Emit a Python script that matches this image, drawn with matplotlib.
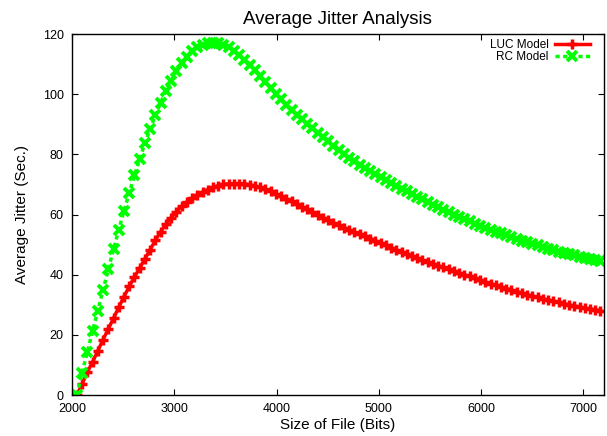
import numpy as np
from matplotlib import pyplot as plt

plt.rcParams["font.family"] = ["Liberation Sans", "DejaVu Sans"]

# File sizes (bits), evenly sampled from 2048 to 7168
file_size = np.linspace(2048, 7168, 101)

# LUC model average jitter (sec.)
luc_jitter = [
    0, 3.7, 7.6, 11.0, 14.7, 18.4, 22.0, 25.5, 29.2, 32.7,
    36.1, 39.3, 42.2, 45.3, 48.3, 51.5, 54.3, 56.8, 59.0, 60.9,
    62.7, 64.2, 65.5, 66.6, 67.5, 68.3, 69.0, 69.6, 70.0, 70.2,
    70.3, 70.3, 70.2, 69.9, 69.5, 69.0, 68.4, 67.7, 66.9, 66.0,
    65.2, 64.4, 63.5, 62.6, 61.7, 60.8, 59.9, 59.0, 58.1, 57.2,
    56.4, 55.6, 54.8, 54.1, 53.4, 52.7, 52.0, 51.3, 50.5, 49.8,
    49.0, 48.2, 47.5, 46.8, 46.1, 45.4, 44.8, 44.2, 43.6, 43.0,
    42.4, 41.8, 41.2, 40.6, 40.0, 39.4, 38.8, 38.2, 37.6, 37.0,
    36.5, 35.9, 35.4, 34.9, 34.4, 33.9, 33.4, 32.9, 32.5, 32.0,
    31.6, 31.2, 30.8, 30.4, 30.0, 29.6, 29.3, 28.9, 28.6, 28.3,
    28.0,
]

# RC model average jitter (sec.)
rc_jitter = [
    0, 7.4, 14.4, 21.3, 28.0, 35.0, 41.8, 48.4, 55.0, 61.2,
    67.2, 73.0, 78.5, 83.7, 88.5, 93.0, 97.2, 101.0, 104.5, 107.6,
    110.3, 112.5, 114.3, 115.6, 116.5, 117.0, 117.1, 116.9, 116.4, 115.6,
    114.5, 113.1, 111.5, 109.8, 108.0, 106.1, 104.1, 102.2, 100.2, 98.3,
    96.5, 94.8, 93.2, 91.7, 90.2, 88.7, 87.2, 85.8, 84.3, 82.8,
    81.4, 80.0, 78.8, 77.7, 76.6, 75.5, 74.5, 73.5, 72.5, 71.5,
    70.5, 69.6, 68.6, 67.7, 66.8, 65.9, 65.0, 64.1, 63.2, 62.4,
    61.6, 60.8, 60.0, 59.2, 58.4, 57.7, 57.0, 56.3, 55.6, 55.0,
    54.3, 53.7, 53.1, 52.5, 51.9, 51.3, 50.8, 50.2, 49.7, 49.2,
    48.7, 48.2, 47.7, 47.3, 46.8, 46.4, 46.0, 45.6, 45.2, 44.8,
    44.4,
]

x_ticks = [2000, 3000, 4000, 5000, 6000, 7000]
y_ticks = [0, 20, 40, 60, 80, 100, 120]

fig = plt.figure(figsize=(6.07, 4.36), dpi=100)
ax = fig.add_axes([0.1186, 0.094, 0.876, 0.828])

ax.plot(
    file_size, luc_jitter, color="#ff0000", lw=2.5, marker="+",
    markersize=7, markeredgewidth=2.5, label="LUC Model",
)
ax.plot(
    file_size, rc_jitter, color="#00ff00", lw=2.5, ls=(0, (1.2, 1.0)),
    marker="x", markersize=6.5, markeredgewidth=2.8, label="RC Model",
)

ax.set_xlim(2000, 7200)
ax.set_ylim(0, 120)
ax.set_xticks(x_ticks)
ax.set_yticks(y_ticks)
ax.tick_params(direction="in", top=True, right=True, labelsize=9, length=4, pad=6)
for s in ax.spines.values():
    s.set_linewidth(1.0)

ax.set_title("Average Jitter Analysis", fontsize=13.5, pad=7)
ax.set_xlabel("Size of File (Bits)", fontsize=11, labelpad=2)
ax.set_ylabel("Average Jitter (Sec.)", fontsize=11, labelpad=10)

ax.legend(
    loc="upper right", bbox_to_anchor=(0.983, 1.0), borderaxespad=0,
    frameon=False, markerfirst=False, fontsize=8.5,
    handlelength=3.0, labelspacing=0.0, handletextpad=0.5,
)

fig.savefig("out.png", dpi=100)
